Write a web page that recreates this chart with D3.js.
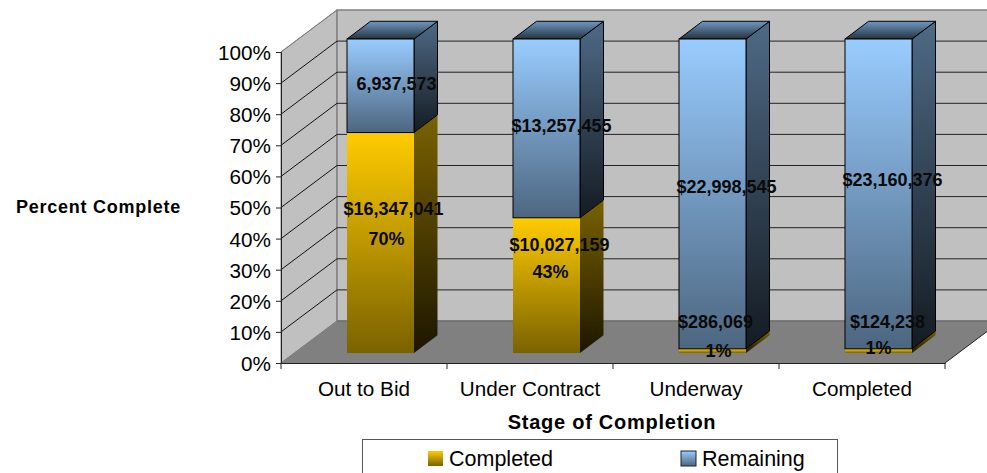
<!DOCTYPE html>
<html>
<head>
<meta charset="utf-8">
<script src="https://d3js.org/d3.v7.min.js"></script>
<style>
  html, body { margin: 0; padding: 0; background: #fff; overflow: hidden; }
  text { font-family: "Liberation Sans", Arial, sans-serif; fill: #000; }
  .tick text { font-size: 20.7px; }
  .axis-title { font-size: 18px; font-weight: bold; letter-spacing: 0.75px; }
  .x-title { font-size: 20px; }
  .bar-label { font-size: 18px; font-weight: bold; text-anchor: middle; fill: #0a0a0a; }
  .legend-text { font-size: 21.5px; }
</style>
</head>
<body>
<div id="chart"></div>
<script>
var categories = ["Out to Bid", "Under Contract", "Underway", "Completed"];
var completed = [16347041, 10027159, 286069, 124238];
var remaining = [6937573, 13257455, 22998545, 23160376];
var completedText = ["$16,347,041", "$10,027,159", "$286,069", "$124,238"];
var remainingText = ["6,937,573", "$13,257,455", "$22,998,545", "$23,160,376"];
var percentText = ["70%", "43%", "1%", "1%"];
var yTicks = [0, 10, 20, 30, 40, 50, 60, 70, 80, 90, 100];

var svgWidth = 987;
var svgHeight = 473;

// front plane of the 3d box and how far back the walls go
var plot = { left: 281, right: 945, top: 52, bottom: 363 };
var depth = { x: 56, y: -42 };

// bars sit part way into the box
var barWidth = 67;
var barShift = 16.5;
var barTop = 39;
var barBottom = 353;
var barDepth = { x: 23.5, y: -17.7 };
var minSegment = 4.2; // thin segments still show a strip of gold

// hand placed labels, offset from bar centre / segment middle
var remainingOffset = [[16, -2], [15, -3], [14, -7], [14, -14]];
var completedOffset = [[13, -34], [13, -41], [3, -29], [9, -29]];
var percentOffset = [[6, -4], [4, -14], [6, 0], [0, -3]];

var svg = d3.select("#chart")
  .append("svg")
  .attr("width", svgWidth)
  .attr("height", svgHeight)
  .style("display", "block");

var x = d3.scaleBand().domain(categories).range([plot.left, plot.right]);
var y = d3.scaleLinear().domain([0, 100]).range([plot.bottom, plot.top]);
var share = d3.scaleLinear().domain([0, 1]).range([barBottom, barTop]);

function addGradient(id, top, bottom) {
  var g = defs.append("linearGradient")
    .attr("id", id)
    .attr("x1", 0).attr("y1", 0)
    .attr("x2", 0).attr("y2", 1);
  g.append("stop").attr("offset", "0%").attr("stop-color", top);
  g.append("stop").attr("offset", "100%").attr("stop-color", bottom);
}

var defs = svg.append("defs");
addGradient("blueFront", "#99ccff", "#4c6680");
addGradient("blueSide", "#4f6a86", "#141b22");
addGradient("blueTop", "#6f98c4", "#26333f");
addGradient("goldFront", "#ffcc00", "#7a6200");
addGradient("goldSide", "#7a6200", "#1c1600");

function pts(list) {
  return list.map(function(p) { return p.join(","); }).join(" ");
}

// walls and floor
svg.append("polygon")
  .attr("points", pts([[plot.left, plot.top], [plot.left + depth.x, plot.top + depth.y],
    [plot.left + depth.x, plot.bottom + depth.y], [plot.left, plot.bottom]]))
  .attr("fill", "#c0c0c0").attr("stroke", "#808080");

svg.append("rect")
  .attr("x", plot.left + depth.x)
  .attr("y", plot.top + depth.y)
  .attr("width", svgWidth - plot.left - depth.x + 2)
  .attr("height", plot.bottom - plot.top)
  .attr("fill", "#c0c0c0").attr("stroke", "#808080").attr("stroke-width", 1.5);

svg.append("polygon")
  .attr("points", pts([[plot.left, plot.bottom], [plot.left + depth.x, plot.bottom + depth.y],
    [plot.right + depth.x, plot.bottom + depth.y], [plot.right, plot.bottom]]))
  .attr("fill", "#808080");

svg.append("line")
  .attr("x1", plot.left + depth.x).attr("x2", svgWidth)
  .attr("y1", plot.bottom + depth.y).attr("y2", plot.bottom + depth.y)
  .attr("stroke", "#666");

svg.append("line")
  .attr("x1", plot.left).attr("y1", plot.bottom)
  .attr("x2", plot.left + depth.x).attr("y2", plot.bottom + depth.y)
  .attr("stroke", "#808080");

svg.append("line")
  .attr("x1", plot.right).attr("y1", plot.bottom)
  .attr("x2", plot.right + depth.x).attr("y2", plot.bottom + depth.y)
  .attr("stroke", "#222");

// gridlines, along the side wall then across the back wall
var gridTicks = yTicks.filter(function(d) { return d > 0; });

svg.append("g").selectAll("line")
  .data(gridTicks)
  .enter()
  .append("line")
  .attr("x1", plot.left)
  .attr("y1", function(d) { return y(d); })
  .attr("x2", plot.left + depth.x)
  .attr("y2", function(d) { return y(d) + depth.y; })
  .attr("stroke", function(d) { return d === 100 ? "#808080" : "#111"; });

svg.append("g").selectAll("line")
  .data(gridTicks.filter(function(d) { return d < 100; }))
  .enter()
  .append("line")
  .attr("x1", plot.left + depth.x)
  .attr("x2", svgWidth)
  .attr("y1", function(d) { return y(d) + depth.y; })
  .attr("y2", function(d) { return y(d) + depth.y; })
  .attr("stroke", "#222");

// axes
var yAxis = svg.append("g")
  .attr("transform", "translate(" + plot.left + ",0)")
  .call(d3.axisLeft(y).tickValues(yTicks).tickFormat(function(d) { return d + "%"; }).tickSize(5).tickPadding(5));
yAxis.selectAll("path, line").attr("stroke", "#222");
yAxis.selectAll("text").attr("dy", "0.36em");

var xAxis = svg.append("g")
  .attr("transform", "translate(0," + plot.bottom + ")")
  .call(d3.axisBottom(x).tickSize(0).tickPadding(18));
xAxis.selectAll("path").attr("stroke", "#222");

// category dividers sit on the band edges, the axis puts ticks in the middle
xAxis.append("g").selectAll("line")
  .data(categories.concat("end"))
  .enter()
  .append("line")
  .attr("x1", function(d, i) { return plot.left + i * x.step(); })
  .attr("x2", function(d, i) { return plot.left + i * x.step(); })
  .attr("y1", 0)
  .attr("y2", 6)
  .attr("stroke", "#222");

// bars
var rows = categories.map(function(c, i) {
  var total = completed[i] + remaining[i];
  return {
    cat: c,
    i: i,
    split: Math.min(share(completed[i] / total), barBottom - minSegment),
    left: x(c) + x.step() / 2 - barWidth / 2 + barShift
  };
});

var bars = svg.append("g").selectAll("g")
  .data(rows)
  .enter()
  .append("g");

function sidePoints(d, top, bottom) {
  var r = d.left + barWidth;
  return pts([[r, top], [r + barDepth.x, top + barDepth.y], [r + barDepth.x, bottom + barDepth.y], [r, bottom]]);
}

bars.append("polygon")
  .attr("points", function(d) { return sidePoints(d, d.split, barBottom); })
  .attr("fill", "url(#goldSide)");

bars.append("rect")
  .attr("x", function(d) { return d.left; })
  .attr("y", function(d) { return d.split; })
  .attr("width", barWidth)
  .attr("height", function(d) { return barBottom - d.split; })
  .attr("fill", "url(#goldFront)");

bars.append("polygon")
  .attr("points", function(d) { return sidePoints(d, barTop, d.split); })
  .attr("fill", "url(#blueSide)")
  .attr("stroke", "#000");

bars.append("polygon")
  .attr("points", function(d) {
    return pts([[d.left, barTop], [d.left + barDepth.x, barTop + barDepth.y],
      [d.left + barWidth + barDepth.x, barTop + barDepth.y], [d.left + barWidth, barTop]]);
  })
  .attr("fill", "url(#blueTop)")
  .attr("stroke", "#000");

bars.append("rect")
  .attr("x", function(d) { return d.left; })
  .attr("y", barTop)
  .attr("width", barWidth)
  .attr("height", function(d) { return d.split - barTop; })
  .attr("fill", "url(#blueFront)")
  .attr("stroke", "#000");

// data labels go on top of everything
function addLabel(texts, offsets, middle) {
  svg.append("g").selectAll("text")
    .data(rows)
    .enter()
    .append("text")
    .attr("class", "bar-label")
    .attr("dy", "0.35em")
    .attr("x", function(d) { return d.left + barWidth / 2 + offsets[d.i][0]; })
    .attr("y", function(d) { return middle(d) + offsets[d.i][1]; })
    .text(function(d) { return texts[d.i]; });
}

addLabel(remainingText, remainingOffset, function(d) { return (barTop + d.split) / 2; });
addLabel(completedText, completedOffset, function(d) { return (d.split + barBottom) / 2; });
addLabel(percentText, percentOffset, function(d) { return (d.split + barBottom) / 2; });

// axis titles
svg.append("text")
  .attr("class", "axis-title")
  .attr("x", 16)
  .attr("y", 213)
  .text("Percent Complete");

svg.append("text")
  .attr("class", "axis-title x-title")
  .attr("x", 612)
  .attr("y", 429)
  .attr("text-anchor", "middle")
  .text("Stage of Completion");

// legend runs off the bottom of the picture
svg.append("rect")
  .attr("x", 362.5)
  .attr("y", 439.5)
  .attr("width", 475)
  .attr("height", 50)
  .attr("fill", "#fff")
  .attr("stroke", "#555");

var legendItems = [
  { name: "Completed", fill: "url(#goldFront)", stroke: "none", x: 428 },
  { name: "Remaining", fill: "url(#blueFront)", stroke: "#222", x: 681 }
];

var legend = svg.append("g").selectAll("g")
  .data(legendItems)
  .enter()
  .append("g")
  .attr("transform", function(d) { return "translate(" + d.x + ",451)"; });

legend.append("rect")
  .attr("width", 15)
  .attr("height", 15)
  .attr("fill", function(d) { return d.fill; })
  .attr("stroke", function(d) { return d.stroke; });

legend.append("text")
  .attr("class", "legend-text")
  .attr("x", 21)
  .attr("y", 15)
  .text(function(d) { return d.name; });
</script>
</body>
</html>
